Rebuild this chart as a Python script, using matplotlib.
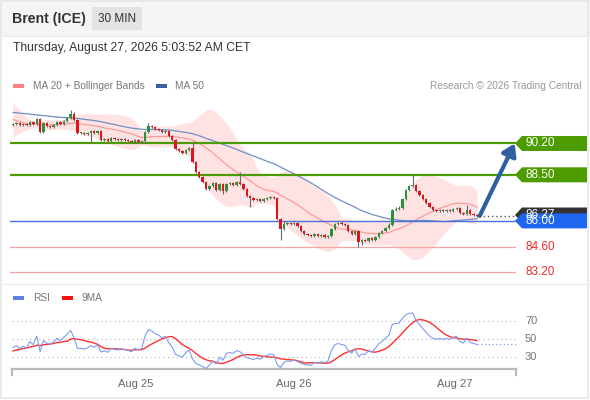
import numpy as np
import pandas as pd
import matplotlib
matplotlib.use("Agg")
import matplotlib.pyplot as plt
from matplotlib.patches import Rectangle, Polygon

plt.rcParams['font.family'] = ['Liberation Sans', 'DejaVu Sans']

# ---------------- data ----------------
instrument = "Brent (ICE)"
timeframe = "30 MIN"
stamp = "Thursday, August 27, 2026 5:03:52 AM CET"

# closes before the visible window (used only to seed MA / BB / RSI)
prior_closes = [92.10, 92.18, 92.05, 92.22, 92.30, 92.15, 92.25, 92.35, 92.20, 92.12,
                92.28, 92.18, 92.05, 92.15, 92.00, 92.08, 91.95, 92.10, 92.02, 91.90,
                91.98, 91.85, 91.95, 92.05, 91.92, 92.15, 92.30, 92.42, 92.35, 92.25,
                92.40, 92.60, 92.45, 92.25, 92.05, 91.85, 91.65, 91.45, 91.35, 91.25,
                91.15, 91.10, 91.20, 91.10, 91.20, 91.15, 91.25, 91.20, 91.30, 91.22]
first_open = 91.22

closes = [91.26, 91.31, 91.20, 91.26, 91.20, 91.37, 91.26, 91.53, 90.82, 91.31,
          91.15, 91.09, 91.20, 91.37, 91.26, 91.42, 91.58, 91.80, 91.48, 90.77,
          90.77, 90.72, 90.77, 90.88, 90.77, 90.88, 90.39, 90.44, 90.34, 90.50,
          90.44, 90.39, 90.44, 90.39, 90.34, 90.28, 90.39, 90.28, 90.34, 90.82,
          91.15, 91.09, 90.98, 90.93, 90.82, 90.88, 90.61, 90.39, 89.90, 89.79,
          89.68, 89.85, 89.95, 89.20, 88.65, 88.38, 88.11, 87.73, 87.89, 88.06,
          87.68, 88.00, 87.62, 88.00, 88.06, 87.95, 88.11, 88.00, 87.73, 87.35,
          87.24, 87.13, 87.19, 87.08, 87.19, 87.24, 87.30, 87.24, 86.10, 85.56,
          85.83, 85.89, 85.83, 85.89, 85.72, 85.45, 85.29, 85.23, 85.18, 85.29,
          85.18, 85.23, 85.13, 85.18, 85.56, 85.83, 85.89, 85.83, 85.78, 85.45,
          85.29, 85.45, 84.85, 84.96, 84.91, 85.07, 84.96, 85.13, 85.34, 85.45,
          85.62, 85.78, 86.59, 86.65, 86.70, 87.19, 87.68, 87.89, 87.95, 87.62,
          87.40, 87.19, 86.97, 86.75, 86.59, 86.54, 86.59, 86.54, 86.59, 86.54,
          86.65, 86.70, 86.43, 86.37, 86.59, 86.37, 86.32, 86.27]

highs = [91.32, 91.36, 91.35, 91.30, 91.31, 91.42, 91.41, 91.60, 91.58, 91.36,
         91.35, 91.20, 91.25, 91.42, 91.41, 91.47, 91.63, 92.02, 91.90, 91.52,
         90.83, 90.82, 90.82, 90.93, 90.93, 90.93, 90.93, 90.50, 90.49, 90.55,
         90.55, 90.49, 90.49, 90.49, 90.44, 90.39, 90.44, 90.44, 90.39, 90.88,
         91.30, 91.22, 91.14, 91.04, 90.98, 90.93, 90.93, 90.66, 90.44, 89.95,
         89.85, 89.90, 90.00, 90.28, 89.25, 88.70, 88.43, 88.16, 87.95, 88.12,
         88.11, 88.06, 88.05, 88.06, 88.11, 88.11, 88.16, 88.65, 88.05, 87.78,
         87.40, 87.29, 87.24, 87.24, 87.24, 87.30, 87.35, 87.35, 87.29, 86.15,
         85.98, 85.95, 85.95, 85.95, 85.94, 85.77, 85.50, 85.34, 85.29, 85.34,
         85.34, 85.29, 85.28, 85.23, 85.61, 85.89, 85.95, 85.99, 85.89, 85.83,
         85.50, 85.50, 85.50, 85.02, 85.02, 85.13, 85.13, 85.18, 85.40, 85.50,
         85.67, 85.89, 86.65, 86.75, 86.81, 87.24, 87.73, 87.95, 88.49, 88.00,
         87.67, 87.45, 87.24, 87.02, 86.81, 86.65, 86.65, 86.65, 86.65, 86.65,
         86.70, 86.75, 86.75, 86.48, 86.86, 86.65, 86.43, 86.37]

lows = [91.17, 91.22, 91.15, 91.16, 91.15, 91.16, 91.21, 91.22, 90.76, 90.78,
        91.10, 91.04, 91.05, 91.15, 91.21, 91.22, 91.38, 91.54, 91.43, 90.71,
        90.71, 90.66, 90.67, 90.23, 90.72, 90.72, 90.33, 90.33, 90.28, 90.29,
        90.39, 90.34, 90.34, 90.34, 90.29, 90.23, 90.23, 90.23, 90.21, 90.22,
        90.77, 91.03, 90.92, 90.87, 90.76, 90.77, 90.55, 90.33, 89.84, 89.73,
        89.62, 89.63, 89.80, 89.14, 88.59, 88.32, 88.05, 87.67, 87.68, 87.84,
        87.62, 87.63, 87.45, 87.57, 87.95, 87.90, 87.90, 87.95, 87.67, 87.29,
        86.78, 87.07, 87.08, 87.02, 87.03, 87.14, 87.19, 87.19, 86.04, 84.96,
        85.50, 85.78, 85.78, 85.78, 85.66, 85.40, 85.23, 85.18, 85.12, 85.13,
        85.12, 85.13, 85.07, 85.08, 85.13, 85.51, 85.78, 85.78, 85.72, 85.40,
        85.23, 85.24, 84.58, 84.70, 84.85, 84.85, 84.90, 84.91, 85.07, 85.29,
        85.40, 85.56, 85.72, 86.54, 86.59, 86.65, 87.13, 87.62, 87.84, 87.57,
        87.35, 87.13, 86.91, 86.70, 86.54, 86.48, 86.48, 86.48, 86.48, 86.48,
        86.48, 86.59, 86.37, 86.32, 86.32, 86.32, 86.26, 86.21]

resistance_levels = [90.20, 88.50]
pivot_level = 86.00
support_levels = [84.60, 83.20]
last_price_label = "86.27"

day_labels = ["Aug 25", "Aug 26", "Aug 27"]
day_positions = [36.3, 83.0, 130.5]     # candle index where each day starts

rsi_levels = [30, 50, 70]

# ---------------- computations ----------------
n = len(closes)
idx = np.arange(n)
opens = [first_open] + closes[:-1]
allc = pd.Series(prior_closes + closes)
k0 = len(prior_closes)
ma20 = allc.rolling(20).mean().values[k0:]
sd20 = allc.rolling(20).std(ddof=0).values[k0:]
ma50 = allc.rolling(50, min_periods=1).mean().values[k0:]
bb_up = ma20 + 2 * sd20
bb_lo = ma20 - 2 * sd20

delta = allc.diff()
gain = delta.clip(lower=0)
loss = -delta.clip(upper=0)
ag = gain.ewm(alpha=1 / 14, adjust=False).mean()
al = loss.ewm(alpha=1 / 14, adjust=False).mean()
rsi_all = 100 - 100 / (1 + ag / al)
rsi9_all = rsi_all.rolling(9).mean()
rsi = rsi_all.values[k0:]
rsi9 = rsi9_all.values[k0:]

# ---------------- figure ----------------
W, H = 590, 400
fig = plt.figure(figsize=(W / 100, H / 100), dpi=100)
fig.patch.set_facecolor('white')


def fx(x):
    return x / W


def fy(y):
    return 1 - y / H


def axrect(x0, y0, x1, y1):
    return [fx(x0), fy(y1), (x1 - x0) / W, (y1 - y0) / H]


# header band
fig.add_artist(Rectangle((0, fy(36)), 1, 36 / H, transform=fig.transFigure,
                         fc='#f5f5f5', ec='none', zorder=0))
fig.add_artist(plt.Line2D([0, 1], [fy(36), fy(36)], transform=fig.transFigure,
                          color='#ebebeb', lw=0.8))
fig.text(fx(12), fy(19), instrument, fontsize=10.2, fontweight='bold',
         color='#333333', va='center', ha='left')
fig.add_artist(Rectangle((fx(92), fy(30)), 50 / W, 23 / H, transform=fig.transFigure,
                         fc='#e3e3e3', ec='none'))
fig.text(fx(117), fy(19), timeframe, fontsize=8.5, color='#333333',
         va='center', ha='center')
fig.text(fx(13), fy(48), stamp, fontsize=8.7, color='#333333', va='center', ha='left')

# legend row
fig.add_artist(Rectangle((fx(13), fy(88)), 11 / W, 4 / H, transform=fig.transFigure,
                         fc='#ff8080', ec='none'))
fig.text(fx(33), fy(86), "MA 20 + Bollinger Bands", fontsize=7.3, color='#777777',
         va='center')
fig.add_artist(Rectangle((fx(156), fy(88)), 11 / W, 4 / H, transform=fig.transFigure,
                         fc='#3a5fa0', ec='none'))
fig.text(fx(175), fy(86), "MA 50", fontsize=7.3, color='#777777', va='center')
fig.text(fx(581), fy(86), "Research \u00a9 2026 Trading Central", fontsize=7.3,
         color='#999999', va='center', ha='right')

# separators / frame
fig.add_artist(plt.Line2D([0, 1], [fy(284), fy(284)], transform=fig.transFigure,
                          color='#eeeeee', lw=1))
fig.add_artist(Rectangle((0.001, 0.004), 0.996, 0.994, transform=fig.transFigure,
                         fc='none', ec='#e6e6e6', lw=1.2))

# ---------------- main price panel ----------------
ax = fig.add_axes(axrect(10, 95, 516, 283))
ax.set_xlim(-0.886, 148.51)
ax.set_ylim(82.63, 92.831)
ax.axis('off')

ax.fill_between(idx, bb_lo, bb_up, color='#ffe3e3', lw=0, zorder=1)
ax.plot(idx, ma20, color='#ff9a9a', lw=0.9, zorder=2)
ax.plot(idx, ma50, color='#6f8fc4', lw=0.9, zorder=2)

for lvl in resistance_levels:
    ax.axhline(lvl, color='#4c9c00', lw=1.6, zorder=3)
ax.axhline(pivot_level, color='#4a6fe0', lw=1.0, zorder=3)
for lvl in support_levels:
    ax.axhline(lvl, color='#f4a3a3', lw=0.9, zorder=3)

o = np.array(opens)
c = np.array(closes)
up = c >= o
col = np.where(up, '#2f8f3a', '#e0141c')
ax.vlines(idx, lows, highs, color='#6a6a6a', lw=0.8, zorder=4)
body_lo = np.minimum(o, c)
body_h = np.maximum(np.abs(c - o), 0.03)
ax.bar(idx, body_h, bottom=body_lo, width=0.7, color=col, lw=0, zorder=5)

# last price dotted line
ax.plot([idx[-1] + 0.5, ax.get_xlim()[1]], [closes[-1], closes[-1]],
        color='#555555', lw=1, ls=(0, (1, 2)), zorder=4)

# target arrow
ax.annotate('', xy=(ax.get_xlim()[1] - 0.4, resistance_levels[0]),
            xytext=(idx[-1] + 0.8, closes[-1]),
            arrowprops=dict(arrowstyle='-|>,head_length=0.7,head_width=0.45',
                            color='#2f5f9f', lw=3, shrinkA=0, shrinkB=0),
            zorder=6)

fig.canvas.draw()


def ypix(price):
    return ax.transData.transform((0, price))[1]  # pixels from bottom


def tag(price, text, fc, tc='white'):
    yc = ypix(price)
    hh = 7.5
    pts = [(515, yc), (522, yc - hh), (587, yc - hh), (587, yc + hh), (522, yc + hh)]
    pts = [(px / W, py / H) for px, py in pts]
    poly = Polygon(pts, closed=True, transform=fig.transFigure, fc=fc, ec='none')
    fig.add_artist(poly)
    t = fig.text(525 / W, yc / H, text, color=tc, fontsize=8.5, va='center', ha='left')
    return poly, t


for lvl in resistance_levels:
    tag(lvl, f"{lvl:.2f}", '#4c9c00')
# last-price tag sits mostly hidden behind the pivot tag (as in the original)
tag(closes[-1] + 0.05, last_price_label, '#333333')
tag(pivot_level, f"{pivot_level:.2f}", '#1f66ee')
for lvl in support_levels:
    fig.text(525 / W, ypix(lvl) / H, f"{lvl:.2f}", color='#ee2a2a', fontsize=8.5,
             va='center', ha='left')

# ---------------- RSI panel ----------------
fig.add_artist(Rectangle((fx(13), fy(300)), 11 / W, 4 / H, transform=fig.transFigure,
                         fc='#5f7fe6', ec='none'))
fig.text(fx(33), fy(298), "RSI", fontsize=7.3, color='#777777', va='center')
fig.add_artist(Rectangle((fx(62), fy(300)), 11 / W, 4 / H, transform=fig.transFigure,
                         fc='#ff1010', ec='none'))
fig.text(fx(82), fy(298), "9MA", fontsize=7.3, color='#777777', va='center')

ax2 = fig.add_axes(axrect(12, 300, 516, 369))
ax2.set_xlim(-0.295, 148.51)
ax2.set_ylim(16.67, 93.3)
for s in ['top', 'left', 'right']:
    ax2.spines[s].set_visible(False)
ax2.spines['bottom'].set_color('#b8b8b8')
ax2.spines['bottom'].set_linewidth(1.6)
ax2.set_yticks([])
ax2.set_xticks(day_positions)
ax2.set_xticklabels(day_labels, fontsize=8, color='#666666')
ax2.tick_params(axis='x', length=0, pad=7)
for lvl in rsi_levels:
    ax2.axhline(lvl, color='#b0b0b0', lw=0.8, ls=(0, (1, 3)), zorder=1)
    fig.text(525 / W, ax2.transData.transform((0, lvl))[1] / H, str(lvl),
             fontsize=8, color='#777777', va='center', ha='left')
for xe in ax2.get_xlim():
    ax2.plot([xe, xe], [16.67, 10.5], color='#b8b8b8', lw=1.6, clip_on=False)
ax2.plot(idx, rsi, color='#7f9cf0', lw=0.8, zorder=3)
ax2.plot(idx, rsi9, color='#ff3030', lw=1.0, zorder=2)
ax2.plot([idx[-1], ax2.get_xlim()[1]], [rsi[-1], rsi[-1]], color='#7f9cf0',
         lw=0.9, ls=(0, (1, 2)), zorder=3)

fig.savefig('out.png', dpi=100)
